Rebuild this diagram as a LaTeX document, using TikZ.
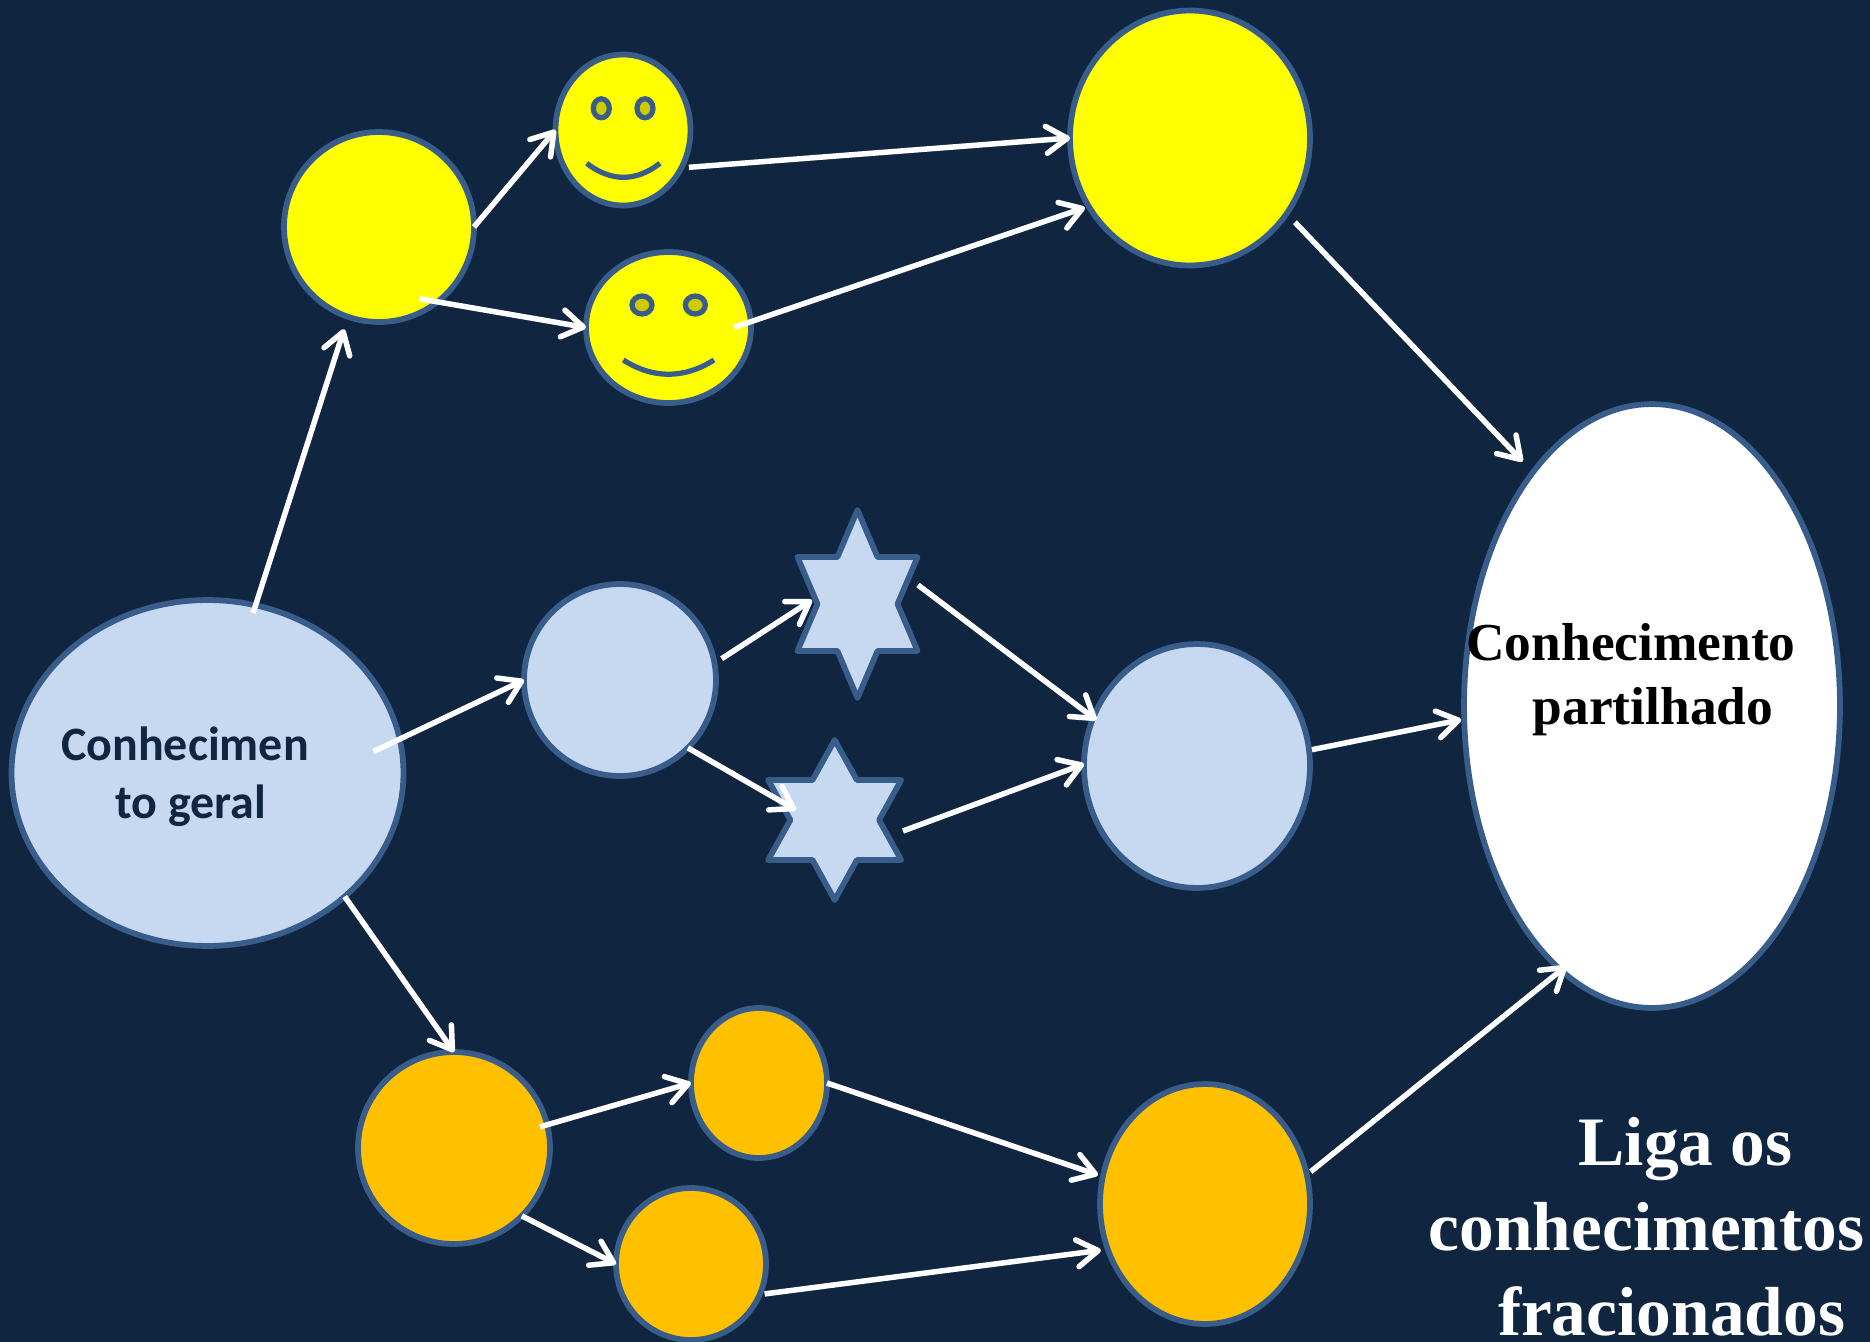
\documentclass[tikz,border=0pt]{standalone}
\usepackage{fontspec}
\setmainfont{Liberation Serif}
\newfontfamily\labelfont{Carlito}
\usetikzlibrary{arrows.meta,shapes.geometric}
\definecolor{bgnavy}{RGB}{16,37,63}
\definecolor{edgeblue}{RGB}{56,93,138}
\definecolor{paleblue}{RGB}{198,217,241}
\definecolor{sunyellow}{RGB}{255,255,0}
\definecolor{eyeyellow}{RGB}{204,204,0}
\definecolor{amber}{RGB}{255,192,0}
\tikzstyle{blob} = [ellipse,draw=edgeblue,line width=.115cm,inner sep=0pt,outer sep=0pt]
\tikzstyle{hexa} = [star,star points=6,star point ratio=1.732,draw=edgeblue,line width=.115cm,line join=round,fill=paleblue,inner sep=0pt,outer sep=0pt,transform shape]
\tikzstyle{facepart} = [draw=edgeblue,line width=.105cm]
\tikzstyle{link} = [line width=.11cm,white,-{Straight Barb[length=.42cm,width=.54cm,round]}]

\begin{document}
\begin{tikzpicture}[x=0.02cm,y=-0.02cm]
\useasboundingbox (0,0) rectangle (1870,1342);
\fill[bgnavy] (0,0) rectangle (1870,1342);

% Start
\node[blob, fill=paleblue, minimum width=7.84cm, minimum height=6.92cm] (geral) at (207.5,773) {};
\node[text=bgnavy, align=center, font={\labelfont\bfseries\fontsize{27.3}{33}\selectfont}] (geralText) at (191,777) {Conhecimen\hspace*{.24cm}\\to geral};

% Yellow branch
\node[blob, fill=sunyellow, minimum width=3.8cm, minimum height=3.8cm] (sunA) at (379,227) {};
\node[blob, fill=sunyellow, minimum width=2.7cm, minimum height=3.02cm] (smileA) at (623,130) {};
\node[blob, fill=sunyellow, minimum width=3.3cm, minimum height=3.02cm] (smileB) at (668.5,327.5) {};
\node[blob, fill=sunyellow, minimum width=4.8cm, minimum height=5.1cm] (sunBig) at (1190,138) {};
\draw[facepart, fill=eyeyellow] (601.3,108.3) ellipse (8 and 9.5);
\draw[facepart, fill=eyeyellow] (645,108.3) ellipse (8 and 9.5);
\draw[facepart] (586.7,163.3) .. controls (611,182) and (636,182) .. (660,163.3);
\draw[facepart, fill=eyeyellow] (642,305) ellipse (10 and 9);
\draw[facepart, fill=eyeyellow] (695.3,305) ellipse (10 and 9);
\draw[facepart] (623.3,360) .. controls (653,379) and (684,379) .. (714,360);

% Blue branch
\node[blob, fill=paleblue, minimum width=3.84cm, minimum height=3.84cm] (blue) at (620,680) {};
\node[hexa, minimum size=3.76cm, xscale=.738] (starA) at (857.5,604) {};
\node[hexa, minimum size=3.2cm, xscale=.96] (starB) at (834.7,820) {};
\node[blob, fill=paleblue, minimum width=4.52cm, minimum height=4.88cm] (blueBig) at (1197,766) {};

% Orange branch
\node[blob, fill=amber, minimum width=3.84cm, minimum height=3.84cm] (orange) at (454,1148) {};
\node[blob, fill=amber, minimum width=2.72cm, minimum height=3cm] (orangeA) at (759,1083) {};
\node[blob, fill=amber, minimum width=3cm, minimum height=3.04cm] (orangeB) at (691,1264) {};
\node[blob, fill=amber, minimum width=4.2cm, minimum height=4.8cm] (orangeBig) at (1205,1204) {};

% End
\node[blob, fill=white, minimum width=7.52cm, minimum height=12.08cm] (party) at (1652,706) {};
\node[text=black, align=center, font={\bfseries\fontsize{30.4}{36.4}\selectfont}] (partyText) at (1653,680) {Conhecimento\hspace*{.88cm}\\partilhado};
\node[text=white, align=center, inner sep=0pt, font={\bfseries\fontsize{39.5}{48.5}\selectfont}] (note) at (1646.5,1227) {\hspace*{1.56cm}Liga os\\conhecimentos\\\hspace*{1cm}fracionados};

% Arrows
\draw[link, shorten <=-.16cm, shorten >=.26cm] (geral.74) -- (sunA.251);
\draw[link, shorten <=-.58cm] (geral.10) -- (blue.180);
\draw[link] (geral.-42) -- (orange.90);

\draw[link] (sunA.0) -- (smileA.180);
\draw[link, shorten <=-.37cm] (sunA.-52) -- (smileB.180);
\draw[link, shorten <=.15cm] (smileA.-33) -- (sunBig.180);
\draw[link, shorten <=-.35cm, shorten >=.08cm] (smileB.4) -- (sunBig.214);
\draw[link, shorten <=.24cm, shorten >=.3cm] (sunBig.-38) -- (party.117);

\draw[link, shorten <=.17cm] (blue.10) -- ([shift={(-45.5,-4)}]starA.center);
\draw[link] (blue.-45) -- ([shift={(-38.7,-10)}]starB.center);
\draw[link, shorten >=-.08cm] ([shift={(60.5,-19)}]starA.center) -- (blueBig.155);
\draw[link] ([shift={(68.3,11)}]starB.center) -- (blueBig.179);
\draw[link, shorten <=.06cm, shorten >=.06cm] (blueBig.8) -- (party.184);

\draw[link, shorten <=-.15cm] (orange.14) -- (orangeA.180);
\draw[link] (orange.-45) -- (orangeB.180);
\draw[link, shorten >=.1cm] (orangeA.0) -- (orangeBig.165);
\draw[link, shorten <=.1cm, shorten >=.14cm] (orangeB.-24) -- (orangeBig.205);
\draw[link, shorten <=.1cm, shorten >=-.14cm] (orangeBig.16) -- (party.251);
\end{tikzpicture}
\end{document}
